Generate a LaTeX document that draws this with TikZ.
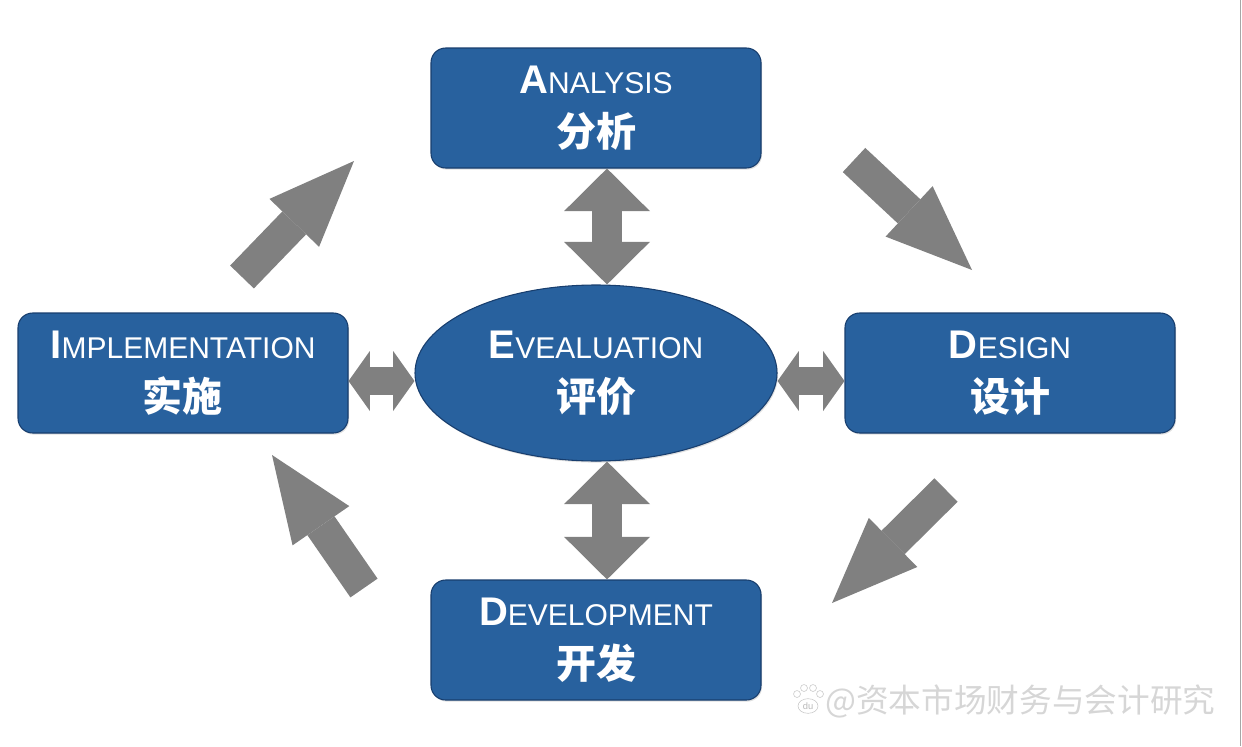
\documentclass[tikz,border=0pt]{standalone}
\usepackage{fontspec}
\setmainfont{Liberation Sans}
\newfontfamily\cjk{Noto Sans CJK SC}
\usetikzlibrary{shapes.geometric,arrows.meta,shadows}

\definecolor{stageblue}{RGB}{40,97,158}
\definecolor{stageedge}{RGB}{24,62,110}
\definecolor{arrowgray}{RGB}{128,128,128}

% two-line label: big initial, small caps rest, Chinese below
\newcommand{\stagename}[3]{{\fontsize{30pt}{40pt}\selectfont\bfseries #1}{\fontsize{22.5pt}{40pt}\selectfont #2}\\{\cjk\bfseries\fontsize{30pt}{40pt}\selectfont #3}}

\tikzset{
  stage/.style={rectangle, rounded corners=11pt, fill=stageblue, draw=stageedge, line width=0.8pt,
    minimum width=247.5pt, minimum height=90pt, inner sep=0pt, text=white, align=center,
    font=\fontsize{22.5pt}{40pt}\selectfont,
    drop shadow={opacity=0.25, shadow xshift=0.8pt, shadow yshift=-1.2pt}},
  hub/.style={stage, ellipse, minimum width=271.5pt, minimum height=132pt},
  flow/.style={draw=arrowgray, line width=24.75pt,
    -{Triangle[length=64.5pt, width=51.75pt, line width=0pt]}},
  swapv/.style={draw=arrowgray, line width=23pt,
    {Triangle[length=32pt, width=64.5pt, line width=0pt]}-{Triangle[length=32pt, width=64.5pt, line width=0pt]}},
  swaph/.style={draw=arrowgray, line width=20.5pt,
    {Triangle[length=16pt, width=45pt, line width=0pt]}-{Triangle[length=16pt, width=45pt, line width=0pt]}},
}

\begin{document}
\begin{tikzpicture}[x=0.75pt, y=-0.75pt]
  \useasboundingbox (0,0) rectangle (1242,746);
  \draw[gray!70, line width=0.75pt] (1240.5,0) -- (1240.5,746);

  \node[stage] (ana) at (596,108) {\stagename{A}{NALYSIS}{分析}};
  \node[stage] (des) at (1010,373) {\stagename{D}{ESIGN}{设计}};
  \node[stage] (dev) at (596,640) {\stagename{D}{EVELOPMENT}{开发}};
  \node[stage] (imp) at (183,373) {\stagename{I}{MPLEMENTATION}{实施}};
  \node[hub] (eva) at (596,373) {\stagename{E}{VEALUATION}{评价}};

  % two-way links with the centre
  \draw[swapv] ([xshift=8.25pt]ana.south) -- ([xshift=8.25pt]eva.north);
  \draw[swapv] ([xshift=8.25pt]eva.south) -- ([xshift=8.25pt]dev.north);
  \draw[swaph] ([yshift=-6pt]imp.east) -- ([yshift=-6pt]eva.west);
  \draw[swaph] ([yshift=-6pt]eva.east) -- ([yshift=-6pt]des.west);

  % the cycle round the outside
  \coordinate (fromImp) at (242,277);
  \coordinate (toAna) at (354,161);
  \coordinate (fromAna) at (854,160);
  \coordinate (toDes) at (972,270);
  \coordinate (fromDes) at (946,490);
  \coordinate (toDev) at (832,603);
  \coordinate (fromDev) at (364,588);
  \coordinate (toImp) at (272,455);
  \draw[flow] (fromImp) -- (toAna);
  \draw[flow] (fromAna) -- (toDes);
  \draw[flow] (fromDes) -- (toDev);
  \draw[flow] (fromDev) -- (toImp);

  % watermark
  \node[ellipse, draw=gray!45, fill=white, inner sep=0.5pt, minimum width=15pt, minimum height=11pt,
    text=gray!55, font=\fontsize{7pt}{7pt}\selectfont] (paw) at (808,706) {du};
  \foreach \tx/\ty in {797/694, 804/688, 813/688, 820/694}
    \draw[gray!45, fill=white] (\tx,\ty) circle (2.6pt);
  \node[anchor=west, text=gray!32, inner sep=0pt, font=\cjk\fontsize{24.5pt}{24.5pt}\selectfont] (mark) at (825,701) {@资本市场财务与会计研究};
\end{tikzpicture}
\end{document}
